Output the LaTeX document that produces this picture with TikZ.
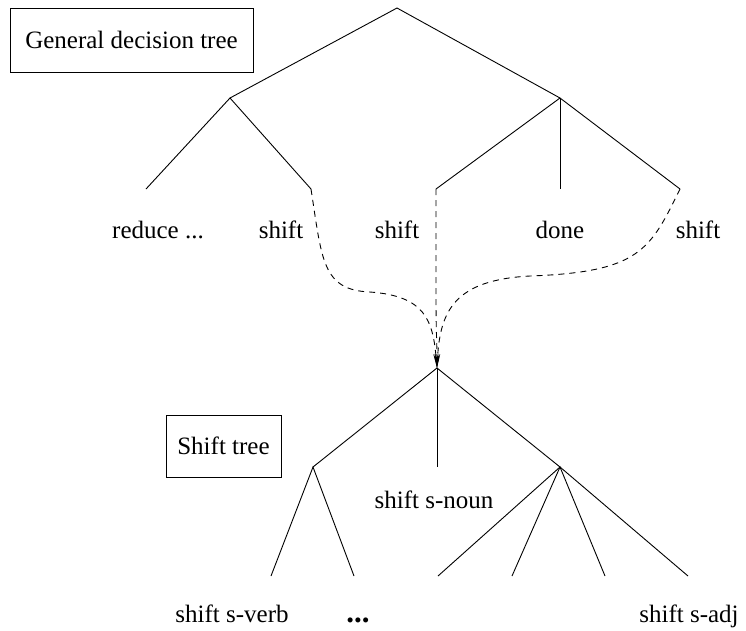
\documentclass[tikz,border=0pt]{standalone}
\usepackage{fontspec}
\setmainfont{Liberation Serif}
\usetikzlibrary{arrows.meta}
\begin{document}
\begin{tikzpicture}[x=1pt,y=-1pt,line width=0.9pt,
  lbl/.style={font=\fontsize{25}{29}\selectfont,inner sep=0pt,anchor=base},
  box/.style={draw,line width=0.9pt,font=\fontsize{25}{29}\selectfont,inner sep=0pt},
  edge/.style={line width=0.9pt},
  link/.style={dash pattern=on 6pt off 5pt,-{Stealth[length=14pt,width=5pt]}}]
\useasboundingbox (0,0) rectangle (746,630);
% general decision tree
\coordinate (r) at (397,8);
\coordinate (a) at (230,98);
\coordinate (b) at (560,98);
\coordinate (a1) at (146,189);
\coordinate (a2) at (311,189);
\coordinate (b1) at (436,189);
\coordinate (b2) at (560,189);
\coordinate (b3) at (680,189);
\draw[edge] (a) -- (r) -- (b);
\draw[edge] (a1) -- (a) -- (a2);
\draw[edge] (b1) -- (b) -- (b3);
\draw[edge] (b) -- (b2);
\node[box,minimum width=243pt,minimum height=64pt] (gbox) at (131.5,40) {General decision tree};
\node[lbl] (l1) at (158,238) {reduce ...};
\node[lbl] (l2) at (281,238) {shift};
\node[lbl] (l3) at (397,238) {shift};
\node[lbl] (l4) at (560,238) {done};
\node[lbl] (l5) at (698,238) {shift};
% shift tree
\coordinate (s) at (437,368);
\coordinate (c) at (313,467);
\coordinate (d) at (437,467);
\coordinate (e) at (560,467);
\coordinate (c1) at (271,576);
\coordinate (c2) at (354,576);
\coordinate (e1) at (438,576);
\coordinate (e2) at (512,576);
\coordinate (e3) at (605,576);
\coordinate (e4) at (688,576);
\draw[edge] (c) -- (s) -- (e);
\draw[edge] (s) -- (d);
\draw[edge] (c1) -- (c) -- (c2);
\draw[edge] (e1) -- (e) -- (e4);
\draw[edge] (e2) -- (e) -- (e3);
\node[box,minimum width=115pt,minimum height=62pt] (sbox) at (223.5,446) {Shift tree};
\node[lbl] (n1) at (434,508) {shift s-noun};
\node[lbl] (m1) at (232,622) {shift s-verb};
\node[lbl,font=\fontsize{31}{34}\selectfont\bfseries] (m2) at (358,622) {...};
\node[lbl] (m3) at (689,622) {shift s-adj};
% dashed links
\draw[link] (a2) .. controls (322,260) and (322,290) .. (370,292)
  .. controls (425,296) and (433,320) .. (s);
\draw[link] (b1) -- (436,300) .. controls (436,330) and (437,345) .. (s);
\draw[link] (b3) .. controls (650,250) and (640,272) .. (530,276)
  .. controls (455,280) and (440,310) .. (s);
\end{tikzpicture}
\end{document}
